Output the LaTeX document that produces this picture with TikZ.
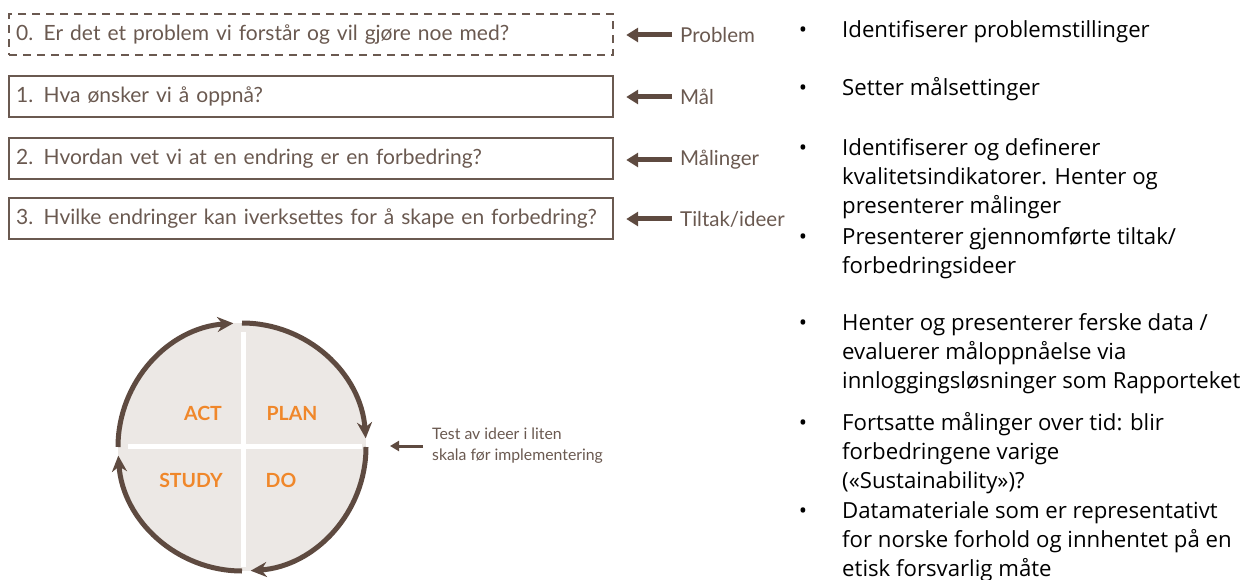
\documentclass[tikz,border=0pt]{standalone}
\usepackage{fontspec}
\setmainfont{Lato}
\newfontfamily\bulletfont{Open Sans}
\usetikzlibrary{arrows.meta}
\definecolor{boxbrown}{HTML}{6A5950}
\definecolor{arrowbrown}{HTML}{5E4A40}
\definecolor{pdsaorange}{HTML}{F0872A}
\definecolor{pdsagrey}{HTML}{ECE8E5}
\tikzset{
  qbox/.style={draw=boxbrown, line width=2.2pt, anchor=north west, minimum height=41pt,
    text width=590pt, inner xsep=7pt, inner ysep=0pt, align=left, text=boxbrown,
    font=\fontsize{21}{24}\selectfont},
  qlabel/.style={anchor=west, inner sep=0pt, text=boxbrown, font=\fontsize{20.5}{24}\selectfont},
  qarrow/.style={draw=arrowbrown, line width=5pt, -{Triangle[length=12pt,width=14pt]}},
  cyclearrow/.style={draw=arrowbrown, line width=5pt, -{Stealth[length=16pt,width=15pt]}},
  phase/.style={inner sep=0pt, text=pdsaorange, font=\bfseries\fontsize{19.5}{22}\selectfont},
  item/.style={anchor=north west, inner sep=0pt, align=left,
    font=\bulletfont\fontsize{22.2}{29}\selectfont},
  dotmark/.style={anchor=base, inner sep=0pt, font=\bulletfont\fontsize{22}{24}\selectfont}
}
\begin{document}
\begin{tikzpicture}[x=1pt,y=1pt]
\useasboundingbox (0,0) rectangle (1245,-580);
% the four questions
\node[qbox, dash pattern=on 8pt off 6pt] (box0) at (8,-13) {0. Er det et problem vi forstår og vil gjøre noe med?};
\node[qbox] (box1) at (8,-75) {1. Hva ønsker vi å oppnå?};
\node[qbox] (box2) at (8,-137) {2. Hvordan vet vi at en endring er en forbedring?};
\node[qbox] (box3) at (8,-197) {3. Hvilke endringer kan iverksettes for å skape en forbedring?};
\node[qlabel] (lbl0) at (680,-35) {Problem};
\node[qlabel] (lbl1) at (680,-97) {Mål};
\node[qlabel] (lbl2) at (680,-160) {Målinger};
\node[qlabel] (lbl3) at (680,-219) {Tiltak/ideer};
\foreach \i in {0,...,3}
  \draw[qarrow, shorten <=8pt, shorten >=12pt] (lbl\i.west) -- (lbl\i.west -| box\i.east);
% PDSA circle
\coordinate (hub) at (242,-447);
\fill[pdsagrey] (hub) circle (124);
\draw[white, line width=5pt] (243,-332) -- (243,-567);
\draw[white, line width=5pt] (128,-446) -- (362,-446);
\draw[cyclearrow] ([shift={(90:124)}]hub) arc (90:4:124);
\draw[cyclearrow] ([shift={(0:124)}]hub) arc (0:-86:124);
\draw[cyclearrow] ([shift={(-90:124)}]hub) arc (-90:-176:124);
\draw[cyclearrow] ([shift={(180:124)}]hub) arc (180:94:124);
\node[phase] (act) at (203,-413) {ACT};
\node[phase] (plan) at (292,-413) {PLAN};
\node[phase] (study) at (191,-480) {STUDY};
\node[phase] (do) at (281,-480) {DO};
\node[anchor=north west, inner sep=0pt, align=left, text=boxbrown, font=\fontsize{15.8}{21}\selectfont]
  (test) at (432,-428) {Test av ideer i liten\\skala før implementering};
\coordinate (testtip) at (390,-446);
\draw[draw=arrowbrown, line width=3pt, -{Triangle[length=9pt,width=10pt]}] (test.west |- testtip) ++(-9,0) -- (testtip);
% roles
\node[item] (it1) at (842,-17) {\strut Identifiserer problemstillinger};
\node[item] (it2) at (842,-75) {\strut Setter målsettinger};
\node[item] (it3) at (842,-135) {\strut Identifiserer og definerer\\kvalitetsindikatorer. Henter og\\presenterer målinger};
\node[item] (it4) at (842,-224) {\strut Presenterer gjennomførte tiltak/\\forbedringsideer};
\node[item] (it5) at (842,-310) {\strut Henter og presenterer ferske data /\\evaluerer måloppnåelse via\\innloggingsløsninger som Rapporteket};
\node[item] (it6) at (842,-410) {\strut Fortsatte målinger over tid: blir\\forbedringene varige\\(«Sustainability»)?};
\node[item] (it7) at (842,-498) {\strut Datamateriale som er representativt\\for norske forhold og innhentet på en\\etisk forsvarlig måte};
\foreach \y [count=\i] in {37.5,95.5,155.5,244.5,330.5,430.5,518.5}
  \node[dotmark] (bul\i) at (803,-\y) {•};
\end{tikzpicture}
\end{document}
